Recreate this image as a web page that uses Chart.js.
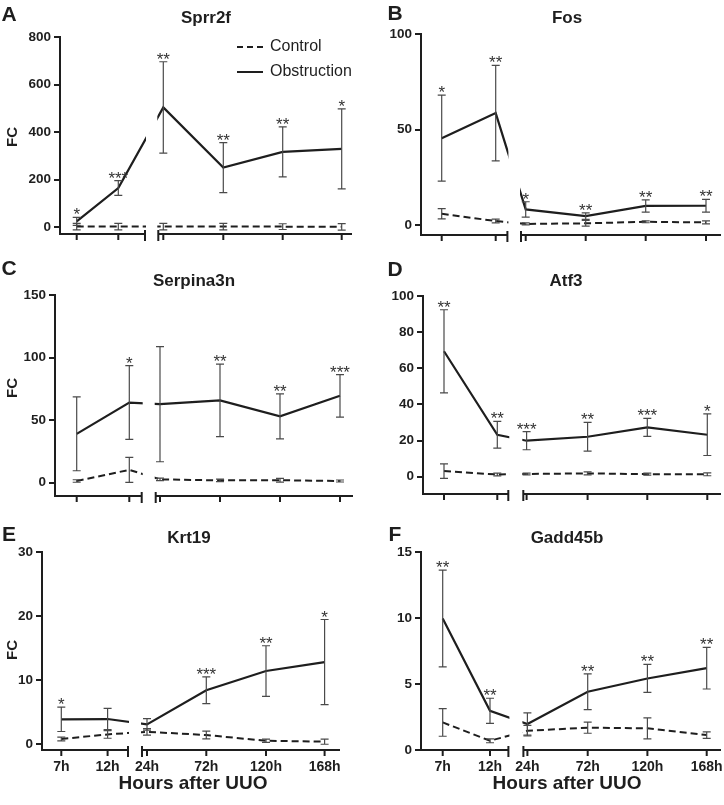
<!DOCTYPE html>
<html>
<head>
<meta charset="utf-8">
<script src="https://cdn.jsdelivr.net/npm/chart.js@4.4.0/dist/chart.umd.min.js"></script>
<style>
  html, body { margin: 0; padding: 0; background: #fff; }
  #wrap { position: relative; width: 724px; height: 805px; }
  #wrap canvas { position: absolute; left: 0; top: 0; }
</style>
</head>
<body>
<div id="wrap"></div>
<script>
// time points (x categories)
const hours = ['7h', '12h', '24h', '72h', '120h', '168h'];

// Sprr2f
const sprr2fObs = [25, 165, 504, 251, 317, 330];
const sprr2fObsErr = [17, 31, 192, 105, 105, 168];
const sprr2fCtl = [3, 3, 3, 3, 3, 2];
const sprr2fCtlErr = [14, 14, 14, 14, 12, 14];
const sprr2fStars = ['*', '***', '**', '**', '**', '*'];
const sprr2fTicks = [0, 200, 400, 600, 800];

// Fos
const fosObs = [45.5, 58.6, 8.2, 4.7, 10, 10.1];
const fosObsErr = [22.5, 25, 4, 1.7, 3.2, 3.3];
const fosCtl = [5.9, 2.1, 0.6, 0.9, 1.7, 1.4];
const fosCtlErr = [2.7, 1, 0.5, 1.5, 0.5, 0.8];
const fosStars = ['*', '**', '*', '**', '**', '**'];
const fosTicks = [0, 50, 100];

// Serpina3n
const serpObs = [39, 64, 62.7, 65.8, 53, 69.4];
const serpObsErr = [29.5, 29.5, 46, 29, 18, 17];
const serpCtl = [1.3, 10.2, 2.6, 1.8, 1.9, 1.3];
const serpCtlErr = [1, 10, 1, 1, 1.5, 0.8];
const serpStars = ['', '*', '', '**', '**', '***'];
const serpTicks = [0, 50, 100, 150];

// Atf3
const atf3Obs = [69.4, 23.2, 19.9, 22.1, 27.3, 23.2];
const atf3ObsErr = [23, 7.4, 5, 8, 5, 11.5];
const atf3Ctl = [3.1, 1.2, 1.5, 1.8, 1.4, 1.3];
const atf3CtlErr = [4, 0.8, 0.5, 0.8, 0.6, 0.8];
const atf3Stars = ['**', '**', '***', '**', '***', '*'];
const atf3Ticks = [0, 20, 40, 60, 80, 100];

// Krt19
const krt19Obs = [3.85, 3.9, 3.07, 8.4, 11.4, 12.8];
const krt19ObsErr = [1.9, 1.65, 0.9, 2.1, 3.95, 6.65];
const krt19Ctl = [0.78, 1.5, 1.9, 1.4, 0.5, 0.36];
const krt19CtlErr = [0.3, 0.6, 0.5, 0.6, 0.25, 0.4];
const krt19Stars = ['*', '', '', '***', '**', '*'];
const krt19Ticks = [0, 10, 20, 30];

// Gadd45b
const gaddObs = [9.96, 2.97, 1.97, 4.41, 5.42, 6.2];
const gaddObsErr = [3.66, 0.95, 0.85, 1.35, 1.06, 1.58];
const gaddCtl = [2.09, 0.7, 1.46, 1.69, 1.64, 1.13];
const gaddCtlErr = [1.05, 0.15, 0.4, 0.42, 0.8, 0.25];
const gaddStars = ['**', '**', '', '**', '**', '**'];
const gaddTicks = [0, 5, 10, 15];

const FONT = "'Liberation Sans', Arial, sans-serif";
const INK = '#1e1e1e';

// layout of each panel: plot box in page pixels, slot positions (px from y axis), axis break
const panels = [
  { letter: 'A', title: 'Sprr2f', obs: sprr2fObs, obsErr: sprr2fObsErr, ctl: sprr2fCtl, ctlErr: sprr2fCtlErr,
    stars: sprr2fStars, ticks: sprr2fTicks, yMin: -28, yMax: 800,
    box: { l: 60, r: 352, t: 37, b: 234 }, slots: [16.7, 58.3, 103.3, 163.3, 222.7, 281.7], brk: [85, 98.3],
    letterPos: [9, 15], titlePos: [206, 18], fc: 137, legend: true, xLabels: false },
  { letter: 'B', title: 'Fos', obs: fosObs, obsErr: fosObsErr, ctl: fosCtl, ctlErr: fosCtlErr,
    stars: fosStars, ticks: fosTicks, yMin: -5.2, yMax: 100,
    box: { l: 421, r: 721, t: 34, b: 235 }, slots: [20.7, 74.7, 104.7, 164.7, 224.7, 285], brk: [86.4, 100],
    letterPos: [395, 14], titlePos: [567, 18], fc: null, legend: false, xLabels: false },
  { letter: 'C', title: 'Serpina3n', obs: serpObs, obsErr: serpObsErr, ctl: serpCtl, ctlErr: serpCtlErr,
    stars: serpStars, ticks: serpTicks, yMin: -10.7, yMax: 150,
    box: { l: 55, r: 353, t: 295, b: 496 }, slots: [21.7, 74.3, 105, 165, 225, 285], brk: [86.7, 100.7],
    letterPos: [9, 269], titlePos: [194, 281], fc: 388, legend: false, xLabels: false },
  { letter: 'D', title: 'Atf3', obs: atf3Obs, obsErr: atf3ObsErr, ctl: atf3Ctl, ctlErr: atf3CtlErr,
    stars: atf3Stars, ticks: atf3Ticks, yMin: -9.6, yMax: 100,
    box: { l: 423, r: 721, t: 296, b: 494 }, slots: [21, 74.3, 103.6, 164.6, 224.3, 284.3], brk: [85.3, 100.3],
    letterPos: [395, 270], titlePos: [566, 281], fc: null, legend: false, xLabels: false },
  { letter: 'E', title: 'Krt19', obs: krt19Obs, obsErr: krt19ObsErr, ctl: krt19Ctl, ctlErr: krt19CtlErr,
    stars: krt19Stars, ticks: krt19Ticks, yMin: -0.94, yMax: 30,
    box: { l: 42, r: 340, t: 552, b: 750 }, slots: [19.3, 65.6, 105, 164.3, 224, 282.6], brk: [86, 100],
    letterPos: [9, 535], titlePos: [189, 538], fc: 650, legend: false, xLabels: true, xTitle: 193 },
  { letter: 'F', title: 'Gadd45b', obs: gaddObs, obsErr: gaddObsErr, ctl: gaddCtl, ctlErr: gaddCtlErr,
    stars: gaddStars, ticks: gaddTicks, yMin: 0, yMax: 15,
    box: { l: 421, r: 721, t: 552, b: 750 }, slots: [21.7, 69, 106.4, 166.7, 226.4, 285.7], brk: [87.4, 102.4],
    letterPos: [395, 535], titlePos: [567, 538], fc: null, legend: false, xLabels: true, xTitle: 567 }
];

function overlay(p) {
  return {
    id: 'overlay' + p.letter,
    afterDatasetsDraw(chart) {
      const ctx = chart.ctx;
      const { left, right, top, bottom } = chart.chartArea;
      const xs = chart.scales.x, ys = chart.scales.y;
      const b0 = xs.getPixelForValue(p.brk[0]);
      const b1 = xs.getPixelForValue(p.brk[1]);
      ctx.save();
      // hide the lines inside the axis break
      ctx.fillStyle = '#fff';
      ctx.fillRect(b0 + 1, top - 30, b1 - b0 - 2, bottom - top + 29);

      // broken x axis
      ctx.strokeStyle = INK;
      ctx.lineWidth = 2;
      ctx.beginPath();
      ctx.moveTo(left - 1, bottom); ctx.lineTo(b0, bottom);
      ctx.moveTo(b1, bottom); ctx.lineTo(right, bottom);
      ctx.moveTo(b0, bottom - 4); ctx.lineTo(b0, bottom + 7);
      ctx.moveTo(b1, bottom - 4); ctx.lineTo(b1, bottom + 7);
      p.slots.forEach(s => {
        const px = xs.getPixelForValue(s);
        ctx.moveTo(px, bottom); ctx.lineTo(px, bottom + 6);
      });
      ctx.stroke();

      // error bars
      ctx.strokeStyle = '#4a4a4a';
      ctx.lineWidth = 1.2;
      const bars = (vals, errs) => {
        ctx.beginPath();
        vals.forEach((v, i) => {
          const px = xs.getPixelForValue(p.slots[i]);
          const yt = ys.getPixelForValue(v + errs[i]);
          const yb = Math.min(ys.getPixelForValue(v - errs[i]), bottom);
          ctx.moveTo(px, yt); ctx.lineTo(px, yb);
          ctx.moveTo(px - 4, yt); ctx.lineTo(px + 4, yt);
          if (yb < bottom - 1) { ctx.moveTo(px - 4, yb); ctx.lineTo(px + 4, yb); }
        });
        ctx.stroke();
      };
      bars(p.ctl, p.ctlErr);
      bars(p.obs, p.obsErr);

      // significance stars
      ctx.fillStyle = '#333';
      ctx.font = '17px ' + FONT;
      ctx.textAlign = 'center';
      ctx.textBaseline = 'alphabetic';
      p.stars.forEach((s, i) => {
        if (!s) return;
        const px = xs.getPixelForValue(p.slots[i]);
        const yt = ys.getPixelForValue(p.obs[i] + p.obsErr[i]);
        ctx.fillText(s, px, yt + 3);
      });

      // panel letter and title
      ctx.fillStyle = INK;
      ctx.textBaseline = 'middle';
      ctx.font = 'bold 21px ' + FONT;
      ctx.fillText(p.letter, p.letterPos[0], p.letterPos[1]);
      ctx.font = 'bold 17px ' + FONT;
      ctx.fillText(p.title, p.titlePos[0], p.titlePos[1]);

      if (p.fc !== null) {
        ctx.save();
        ctx.translate(13, p.fc);
        ctx.rotate(-Math.PI / 2);
        ctx.font = 'bold 15px ' + FONT;
        ctx.fillText('FC', 0, 0);
        ctx.restore();
      }

      if (p.xLabels) {
        ctx.font = 'bold 14px ' + FONT;
        hours.forEach((h, i) => {
          ctx.fillText(h, xs.getPixelForValue(p.slots[i]), bottom + 17);
        });
        ctx.font = 'bold 19px ' + FONT;
        ctx.fillText('Hours after UUO', p.xTitle, bottom + 34);
      }

      if (p.legend) {
        const names = chart.data.datasets.map(d => d.label);
        ctx.textAlign = 'left';
        ctx.font = '16px ' + FONT;
        ctx.lineWidth = 2;
        ctx.strokeStyle = INK;
        [[47, [6, 4]], [72, []]].forEach(([yy, dash], k) => {
          ctx.setLineDash(dash);
          ctx.beginPath();
          ctx.moveTo(237, yy); ctx.lineTo(263, yy);
          ctx.stroke();
          ctx.setLineDash([]);
          ctx.fillText(names[k], 270, yy);
        });
      }
      ctx.restore();
    }
  };
}

const wrap = document.getElementById('wrap');
panels.forEach(p => {
  const cv = document.createElement('canvas');
  cv.width = 724; cv.height = 805;
  cv.style.width = '724px'; cv.style.height = '805px';
  wrap.appendChild(cv);
  new Chart(cv, {
    type: 'line',
    data: {
      datasets: [
        { label: 'Control', data: hours.map((h, i) => ({ x: p.slots[i], y: p.ctl[i] })),
          borderColor: INK, borderWidth: 2, borderDash: [7, 4], pointRadius: 0, tension: 0, fill: false },
        { label: 'Obstruction', data: hours.map((h, i) => ({ x: p.slots[i], y: p.obs[i] })),
          borderColor: INK, borderWidth: 2.2, pointRadius: 0, tension: 0, fill: false }
      ]
    },
    options: {
      responsive: false,
      animation: false,
      events: [],
      layout: { padding: { left: p.box.l - 40, right: 724 - p.box.r, top: p.box.t, bottom: 805 - p.box.b } },
      plugins: { legend: { display: false }, tooltip: { enabled: false } },
      scales: {
        x: { type: 'linear', display: false, min: 0, max: p.box.r - p.box.l },
        y: {
          min: p.yMin, max: p.yMax,
          afterBuildTicks: s => { s.ticks = p.ticks.map(v => ({ value: v })); },
          afterFit: s => { s.width = 40; },
          grid: { drawOnChartArea: false, drawTicks: true, tickLength: 6, color: INK, lineWidth: 2 },
          border: { display: true, color: INK, width: 2 },
          ticks: { color: INK, padding: 3, font: { family: FONT, weight: 'bold', size: 13.5 } }
        }
      }
    },
    plugins: [overlay(p)]
  });
});
</script>
</body>
</html>
